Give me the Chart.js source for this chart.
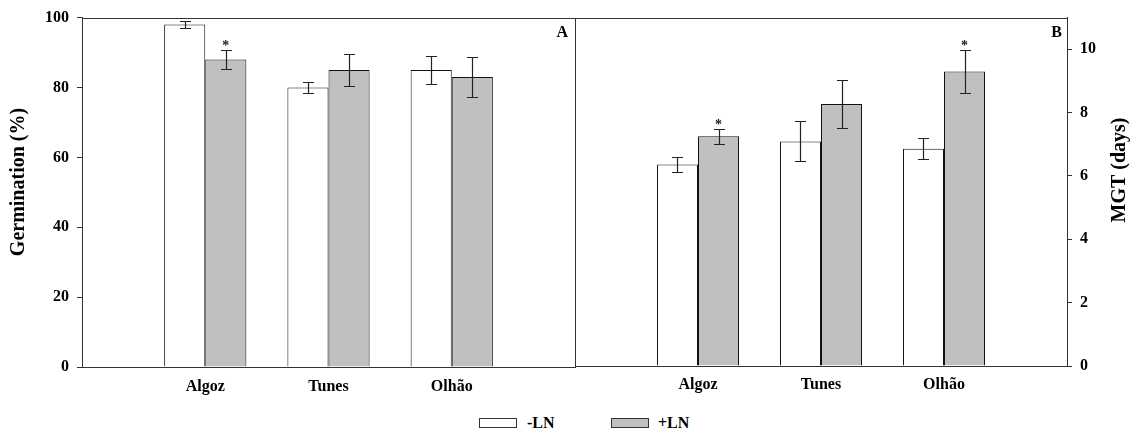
<!DOCTYPE html>
<html><head><meta charset="utf-8">
<script src="https://cdn.jsdelivr.net/npm/chart.js@4"></script>
<style>
html,body{margin:0;padding:0;background:#fff;width:1136px;height:434px;overflow:hidden;position:relative;}
#cA{position:absolute;left:0;top:0;}
#cB{position:absolute;left:570px;top:0;}
.box{position:absolute;top:418px;width:36px;height:8px;border:1px solid #333;}
.lt{position:absolute;top:414px;font:bold 16px 'Liberation Serif',serif;line-height:18px;color:#000;}
</style></head><body>
<canvas id="cA" width="580" height="400"></canvas>
<canvas id="cB" width="566" height="400"></canvas>
<div class="box" style="left:479px;background:#fff"></div><div class="lt" id="l1" style="left:527px"></div>
<div class="box" style="left:611px;background:#c0c0c0"></div><div class="lt" id="l2" style="left:658px"></div>
<script>
// ---- data ----
const categories = ['Algoz', 'Tunes', 'Olhão'];
const seriesNames = ['-LN', '+LN'];
const germMinus = [98, 80, 85];
const germMinusErr = [1.1, 1.6, 4.1];
const germPlus = [88, 85, 83];
const germPlusErr = [2.8, 4.5, 5.8];
const germPlusSig = [true, false, false];
const mgtMinus = [6.36, 7.09, 6.86];
const mgtMinusErr = [0.25, 0.63, 0.33];
const mgtPlus = [7.25, 8.27, 9.30];
const mgtPlusErr = [0.24, 0.75, 0.69];
const mgtPlusSig = [true, false, true];
const germTicks = [0, 20, 40, 60, 80, 100];
const mgtTicks = [0, 2, 4, 6, 8, 10];

document.getElementById('l1').textContent = seriesNames[0];
document.getElementById('l2').textContent = seriesNames[1];

const FONT = "'Liberation Serif', serif";
const pad = a => [null, ...a, null];
const labels = ['', ...categories, ''];

const overlay = {
  id: 'overlay',
  afterDatasetsDraw(chart, args, opts) {
    const {ctx, chartArea: a, scales} = chart;
    const y = scales.y;
    ctx.save();
    chart.data.datasets.forEach((ds, di) => {
      const meta = chart.getDatasetMeta(di);
      meta.data.forEach((bar, i) => {
        const v = ds.data[i];
        if (v == null) return;
        const e = ds.errors[i - 1];
        const x = Math.round(bar.x) + 0.5;
        const yt = Math.round(y.getPixelForValue(v + e)) + 0.5;
        const yb = Math.round(y.getPixelForValue(v - e)) + 0.5;
        ctx.strokeStyle = '#222';
        ctx.lineWidth = 1.2;
        ctx.beginPath();
        ctx.moveTo(x, yt); ctx.lineTo(x, yb);
        ctx.moveTo(x - 5.5, yt); ctx.lineTo(x + 5.5, yt);
        ctx.moveTo(x - 5.5, yb); ctx.lineTo(x + 5.5, yb);
        ctx.stroke();
        if (ds.sig && ds.sig[i - 1]) {
          ctx.fillStyle = '#222';
          ctx.font = 'bold 14px ' + FONT;
          ctx.textAlign = 'center';
          ctx.textBaseline = 'alphabetic';
          ctx.fillText('*', bar.x, yt - 0.5);
        }
      });
    });
    ctx.strokeStyle = '#333';
    ctx.lineWidth = 1;
    ctx.strokeRect(Math.round(a.left) + 0.5, Math.round(a.top) + 0.5,
      Math.round(a.right - a.left), Math.round(a.bottom - a.top));
    ctx.fillStyle = '#000';
    ctx.font = 'bold 16px ' + FONT;
    ctx.textAlign = 'right';
    ctx.textBaseline = 'middle';
    ctx.fillText(opts.letter, a.right - opts.letterDx, a.top + 15);
    ctx.font = 'bold 20px ' + FONT;
    ctx.textAlign = 'center';
    ctx.translate(opts.titleX, opts.titleY);
    ctx.rotate(-Math.PI / 2);
    ctx.fillText(opts.title, 0, 0);
    ctx.restore();
  }
};

function makeChart(id, minusVals, minusErr, plusVals, plusErr, plusSig, tickVals, yMax, cfg) {
  return new Chart(document.getElementById(id), {
    type: 'bar',
    data: {
      labels,
      datasets: [
        {label: seriesNames[0], data: pad(minusVals), errors: minusErr, sig: null,
         backgroundColor: '#ffffff', borderColor: '#111', borderWidth: 1},
        {label: seriesNames[1], data: pad(plusVals), errors: plusErr, sig: plusSig,
         backgroundColor: '#c0c0c0', borderColor: '#111', borderWidth: 1}
      ]
    },
    options: {
      responsive: false,
      animation: false,
      events: [],
      categoryPercentage: 0.667,
      barPercentage: 1,
      layout: {padding: cfg.padding},
      plugins: {legend: {display: false}, tooltip: {enabled: false},
        overlay: cfg.overlay},
      scales: {
        x: {
          type: 'category',
          offset: false,
          grid: {display: false, drawTicks: false},
          border: {display: true, color: '#333', width: 1},
          ticks: {autoSkip: false, maxRotation: 0, padding: cfg.xPad, color: '#000',
            font: {family: FONT, size: 16, weight: 'bold'}},
          afterFit: s => { s.height = cfg.xH; s.paddingLeft = 0; s.paddingRight = 0; }
        },
        y: {
          position: cfg.yPos,
          min: 0, max: yMax,
          afterBuildTicks: s => { s.ticks = tickVals.map(v => ({value: v})); },
          grid: {drawOnChartArea: false, drawTicks: true, tickLength: 5, color: '#333'},
          border: {display: true, color: '#333', width: 1},
          ticks: {padding: 8, color: '#000', includeBounds: false,
            font: {family: FONT, size: 16, weight: 'bold'}},
          afterFit: s => { s.width = cfg.yW; }
        }
      }
    },
    plugins: [overlay]
  });
}

makeChart('cA', germMinus, germMinusErr, germPlus, germPlusErr, germPlusSig, germTicks, 100, {
  padding: {left: 0, top: 15, right: 5, bottom: 0},
  xH: 33, yW: 82, yPos: 'left', xPad: 10,
  overlay: {letter: 'A', letterDx: 7, title: 'Germination (%)', titleX: 19, titleY: 182}
});
makeChart('cB', mgtMinus, mgtMinusErr, mgtPlus, mgtPlusErr, mgtPlusSig, mgtTicks, 11, {
  padding: {left: 5, top: 14, right: 0, bottom: 0},
  xH: 34, yW: 69, yPos: 'right', xPad: 9,
  overlay: {letter: 'B', letterDx: 5, title: 'MGT (days)', titleX: 550, titleY: 170}
});
</script>
</body></html>
